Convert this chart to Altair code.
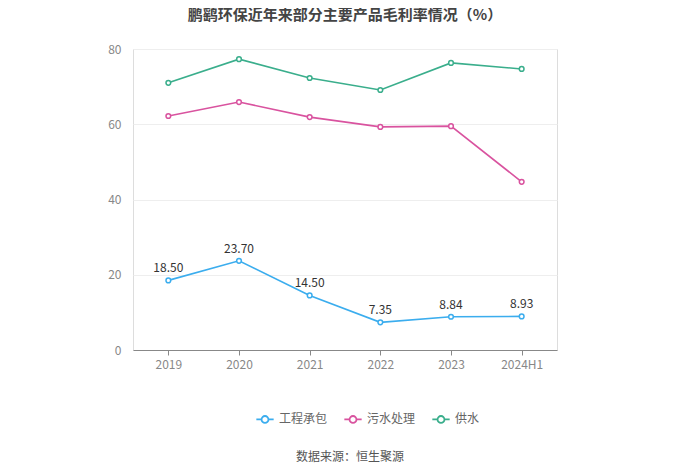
import altair as alt
import pandas as pd

years = ["2019", "2020", "2021", "2022", "2023", "2024H1"]
series_names = ["工程承包", "污水处理", "供水"]
engineering = [18.50, 23.70, 14.50, 7.35, 8.84, 8.93]
sewage = [62.2, 65.9, 61.9, 59.3, 59.5, 44.7]
water = [71.0, 77.3, 72.3, 69.1, 76.3, 74.7]
colors = ["#3badee", "#d9539f", "#3aae8c"]

rows = []
for name, vals in zip(series_names, [engineering, sewage, water]):
    for y, v in zip(years, vals):
        rows.append({"year": y, "series": name, "value": v})
df = pd.DataFrame(rows)

symbol = ("M-1,0L-0.4,0M0.4,0L1,0"
          "M0.4,0A0.4,0.4 0 1 1 -0.4,0A0.4,0.4 0 1 1 0.4,0")

x = alt.X("year:N", sort=years, title=None,
          scale=alt.Scale(type="point", padding=0.5),
          axis=alt.Axis(labelAngle=0, labelColor="#888", labelFontSize=12,
                        domainColor="#888", tickColor="#888", tickSize=5,
                        labelPadding=4, grid=False))
y = alt.Y("value:Q", title=None,
          scale=alt.Scale(domain=[0, 80], nice=False),
          axis=alt.Axis(values=[0, 20, 40, 60, 80], labelColor="#888",
                        labelFontSize=12, domain=False, ticks=False,
                        gridColor="#eeeeee", labelPadding=12))
color = alt.Color("series:N", sort=series_names, title=None,
                  scale=alt.Scale(domain=series_names, range=colors),
                  legend=alt.Legend(orient="none", direction="horizontal",
                                    legendX=122, legendY=360,
                                    symbolType=symbol, symbolSize=300,
                                    symbolStrokeWidth=1.8,
                                    symbolFillColor="white",
                                    labelFontSize=12, labelColor="#666",
                                    columnPadding=12, symbolOffset=0))

base = alt.Chart(df)
lines = base.mark_line(strokeWidth=1.6).encode(x=x, y=y, color=color)
points = base.mark_point(filled=True, fill="white", size=22, strokeWidth=1.5,
                         opacity=1).encode(
    x=x, y=y, stroke=alt.Stroke("series:N", scale=alt.Scale(domain=series_names, range=colors), legend=None))
labels = base.transform_filter(alt.datum.series == "工程承包").mark_text(
    dy=-12, fontSize=12, color="#333").encode(
    x=x, y=y, text=alt.Text("value:Q", format=".2f"))
source = alt.Chart(pd.DataFrame({"t": ["数据来源：恒生聚源"]})).mark_text(
    fontSize=12, color="#555").encode(
    x=alt.value(217), y=alt.value(408), text="t:N")

chart = alt.layer(lines, points, labels, source).properties(
    width=424, height=301,
    autosize=alt.AutoSizeParams(type="none"),
    padding={"left": 125, "top": 41, "right": 135, "bottom": 116},
    title=alt.TitleParams("鹏鹞环保近年来部分主要产品毛利率情况（%）",
                          fontSize=15, fontWeight="bold", color="#444",
                          anchor="middle", offset=20),
).configure_view(stroke=None).configure(font="Noto Sans CJK SC")

chart.save("out.html", embed_options={"renderer": "svg", "actions": False})
